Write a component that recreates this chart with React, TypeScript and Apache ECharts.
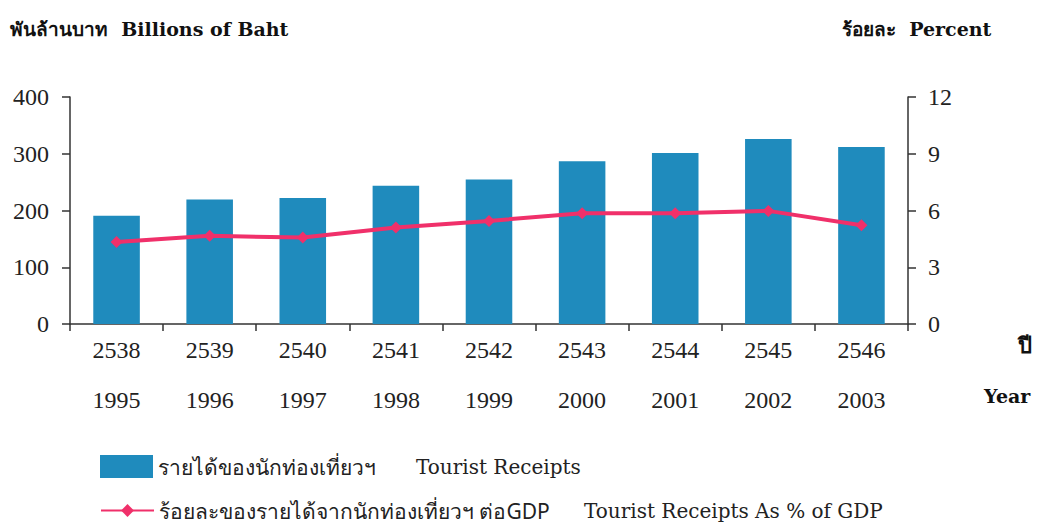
import React, { useEffect, useRef } from "react";
import * as echarts from "echarts";

const beYears = ["2538", "2539", "2540", "2541", "2542", "2543", "2544", "2545", "2546"];
const ceYears = ["1995", "1996", "1997", "1998", "1999", "2000", "2001", "2002", "2003"];
const receipts = [190.8, 219.4, 222.0, 243.5, 254.5, 287.0, 301.5, 326.0, 312.0];
const pctGdp = [4.34, 4.66, 4.57, 5.1, 5.45, 5.86, 5.86, 5.98, 5.22];

const barName = "รายได้ของนักท่องเที่ยวฯ";
const barNameEn = "Tourist Receipts";
const lineName = "ร้อยละของรายได้จากนักท่องเที่ยวฯ ต่อGDP";
const lineNameEn = "Tourist Receipts As % of GDP";

const NUM_FONT = "'Liberation Serif', serif";
const SERIF = "'DejaVu Serif', 'Liberation Serif', serif";

export default function App() {
  const ref = useRef<HTMLDivElement>(null);
  useEffect(() => {
    const chart = echarts.init(ref.current!, null, { renderer: "svg" });
    chart.setOption({
      animation: false,
      backgroundColor: "#ffffff",
      grid: { left: 70, right: 134, top: 97, bottom: 206 },
      xAxis: {
        type: "category",
        data: beYears,
        axisLine: { lineStyle: { color: "#333", width: 1.5 } },
        axisTick: { show: true, length: 7, lineStyle: { color: "#333", width: 1.5 } },
        axisLabel: {
          margin: 1,
          color: "#222",
          fontFamily: NUM_FONT,
          fontSize: 24,
          lineHeight: 50,
          formatter: (v: string, i: number) => `${v}\n${ceYears[i]}`,
        },
      },
      yAxis: [
        {
          type: "value",
          min: 0,
          max: 400,
          interval: 100,
          position: "left",
          splitLine: { show: false },
          axisLine: { show: true, lineStyle: { color: "#333", width: 1.5 } },
          axisTick: { show: true, length: 8, lineStyle: { color: "#333", width: 1.5 } },
          axisLabel: { margin: 21, color: "#222", fontFamily: NUM_FONT, fontSize: 24 },
        },
        {
          type: "value",
          min: 0,
          max: 12,
          interval: 3,
          position: "right",
          splitLine: { show: false },
          axisLine: { show: true, lineStyle: { color: "#333", width: 1.5 } },
          axisTick: { show: true, length: 8, lineStyle: { color: "#333", width: 1.5 } },
          axisLabel: { margin: 20, color: "#222", fontFamily: NUM_FONT, fontSize: 24 },
        },
      ],
      legend: [
        {
          data: [{ name: barName, icon: "rect" }],
          orient: "vertical",
          left: 95,
          top: 450,
          itemWidth: 53,
          itemHeight: 23,
          formatter: () => `{a|${barName}}{b|${barNameEn}}`,
          textStyle: {
            rich: {
              a: { width: 258, fontSize: 21, color: "#222", fontFamily: "'Noto Sans', sans-serif" },
              b: { fontSize: 20, color: "#222", fontFamily: SERIF },
            },
          },
        },
        {
          data: [lineName],
          orient: "vertical",
          left: 95,
          top: 495,
          itemWidth: 53,
          itemHeight: 16,
          formatter: () => `{a|${lineName}}{b|${lineNameEn}}`,
          textStyle: {
            rich: {
              a: { width: 425, fontSize: 21, color: "#222", fontFamily: "'Noto Sans', sans-serif" },
              b: { fontSize: 20, color: "#222", fontFamily: SERIF },
            },
          },
        },
      ],
      series: [
        {
          name: barName,
          type: "bar",
          data: receipts,
          barWidth: "50%",
          itemStyle: { color: "#1f8bbd" },
        },
        {
          name: lineName,
          type: "line",
          yAxisIndex: 1,
          data: pctGdp,
          symbol: "diamond",
          symbolSize: 12,
          lineStyle: { color: "#f0306a", width: 4 },
          itemStyle: { color: "#f0306a" },
        },
      ],
      graphic: [
        {
          type: "text",
          left: 10,
          top: 19,
          style: {
            text: "พันล้านบาท  Billions of Baht",
            font: `bold 19px ${SERIF}`,
            fill: "#111",
          },
        },
        {
          type: "text",
          left: 842,
          top: 19,
          style: { text: "ร้อยละ  Percent", font: `bold 19px ${SERIF}`, fill: "#111" },
        },
        {
          type: "text",
          left: 1018,
          top: 334,
          style: { text: "ปี", font: `bold 22px ${SERIF}`, fill: "#111" },
        },
        {
          type: "text",
          left: 984,
          top: 386,
          style: { text: "Year", font: `bold 19px ${SERIF}`, fill: "#111" },
        },
      ],
    });
    return () => chart.dispose();
  }, []);
  return <div ref={ref} style={{ width: 1042, height: 530, position: "absolute", left: 0, top: 0 }} />;
}
